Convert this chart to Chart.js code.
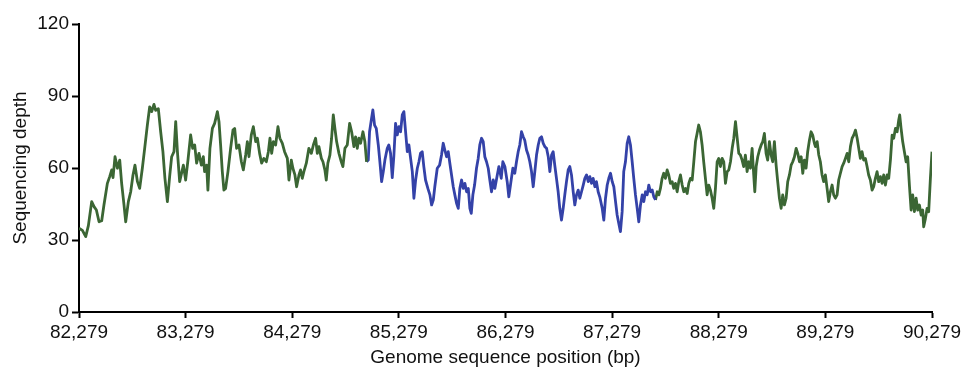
<!DOCTYPE html>
<html>
<head>
<meta charset="utf-8">
<script src="https://cdn.jsdelivr.net/npm/chart.js@4.4.0/dist/chart.umd.min.js"></script>
<style>
  html, body { margin: 0; padding: 0; background: #fff; }
  #wrap { width: 972px; height: 369px; }
</style>
</head>
<body>
<div id="wrap"><canvas id="chart-depth"></canvas></div>
<script>
// genome position (bp) and sequencing depth

// green part, left of the blue region
var leftPos = [
  82279,82311,82342,82367,82398,82420,82442,82467,82492,82513,
  82545,82567,82586,82598,82617,82639,82661,82679,82701,82717,
  82742,82764,82785,82804,82827,82848,82873,82895,82920,82942,
  82961,82982,82998,83023,83045,83066,83085,83108,83129,83148,
  83170,83186,83202,83223,83258,83279,83301,83326,83345,83364,
  83382,83404,83427,83445,83457,83476,83488,83507,83530,83551,
  83577,83592,83607,83623,83638,83654,83676,83701,83723,83739,
  83757,83779,83802,83820,83842,83858,83873,83895,83914,83936,
  83952,83973,83992,84013,84036,84055,84070,84086,84102,84123,
  84145,84163,84186,84207,84233,84248,84270,84285,84304,84320,
  84342,84357,84373,84388,84411,84435,84458,84477,84498,84514,
  84529,84552,84567,84585,84598,84613,84632,84648,84664,84679,
  84695,84717,84739,84754,84773,84795,84817,84836,84857,84873,
  84889,84904,84920,84942,84960,84976
];
var leftDepth = [
  34.9,34,31.4,36,46,43.9,42.5,37.6,38,44.6,
  53.6,56.4,59.2,56,64.7,59.9,63.3,53.6,44.6,37.6,
  46,50.1,57,61.2,54.3,51.5,59.9,68.2,77.9,85.5,
  83.5,86.5,84,84.7,75.1,66.8,55.7,46,56.4,64.7,
  66.8,79.3,66.8,54.3,61.2,55,63.3,73.8,68.2,69.6,
  62,66.1,61.2,64.7,58.5,61.2,50.8,68.2,76.5,78.6,
  83.5,79.3,69.6,58.5,50.8,51.5,58.5,68.2,75.8,76.5,
  68.2,69.6,62.6,59.2,65.4,71,64.7,73.8,77.2,71,
  72.4,66.1,62,64,62.6,66.8,72.4,66.1,71,69.6,
  77.2,72.4,70.3,66.8,64,55,63.3,59.9,57.1,52.2,
  57.1,59.2,55.7,58.5,62,68.2,66.1,69.6,72.4,66.1,
  68.9,64,62.6,59.2,55,62,65.4,72.4,82.1,76.5,
  71,66.1,62.6,60.6,68.2,69.6,78.6,75.1,68.9,73,
  68.2,72.4,70.3,75.1,71,62.6
];

// blue region
var bluePos = [
  84976,84992,85004,85023,85035,85051,85067,85086,85101,85117,
  85133,85148,85170,85185,85201,85217,85232,85248,85264,85279,
  85295,85311,85326,85342,85358,85373,85389,85405,85420,85436,
  85452,85467,85482,85498,85513,85529,85551,85570,85586,85602,
  85616,85639,85661,85679,85695,85710,85726,85742,85757,85773,
  85789,85804,85820,85836,85851,85867,85883,85898,85914,85930,
  85945,85958,85973,85989,86007,86023,86038,86054,86070,86085,
  86101,86117,86132,86148,86164,86179,86202,86217,86239,86254,
  86273,86295,86310,86326,86348,86366,86382,86398,86413,86429,
  86445,86460,86476,86492,86507,86523,86539,86554,86570,86586,
  86601,86617,86633,86648,86664,86680,86695,86711,86726,86741,
  86757,86773,86788,86804,86820,86835,86851,86867,86882,86898,
  86914,86929,86945,86961,86976,86992,87008,87023,87039,87055,
  87070,87086,87101,87117,87132,87148,87163,87186,87201,87217,
  87233,87248,87264,87280,87295,87311,87326,87341,87357,87373,
  87388,87404,87420,87435,87451,87467,87482,87498,87514,87529,
  87545,87561,87576,87592,87608,87623,87639,87655,87670,87686
];
var blueDepth = [
  62.6,63.3,75.1,80.7,84.2,77.9,76.5,69.6,62.6,54.3,
  58.5,63.3,68.2,69.6,66.1,56,65,78.6,73.8,77.2,
  75.1,82.1,83.5,75.1,66.8,69.6,64,58.5,47.4,55,
  59.9,62.6,66.1,66.8,60.6,55,51.5,48.8,44.6,46.7,
  52.2,59.9,61.2,65.4,70.3,67.5,64.7,66.8,62,57.1,
  52.2,48.8,45.3,43.2,51.5,55,51.5,53.6,50.1,51.5,
  43.2,41.1,48.8,52.9,59.9,64,69.6,72.4,71,64.7,
  62.6,59.9,55,50.1,55,51.5,57.1,60.6,55.7,62.6,
  60.6,54.3,48,53,59.9,57.8,62.6,66.8,69.6,75.1,
  73,71.5,67.5,65.4,62.6,58.5,52.2,58.5,65.4,69.6,
  72.4,73,70.3,68.9,68.2,64.7,58.5,65.4,66.8,61.2,
  55.7,50.1,43.2,38.3,43.2,48.8,54.3,59.2,60.6,57.1,
  50.1,44.6,48.8,50.8,47.4,50.1,52.9,55.7,57.1,54.3,
  56.4,53.6,55.7,52.2,54.3,50.1,48,43.2,38.3,47.4,
  52.9,55.7,57.8,54.3,52.2,46,40.4,37,33.5,41.8,
  58.5,62.6,70.3,73,69.6,62.6,55.7,48.8,43.2,37.6,
  44.6,48.8,46,50.1,48.8,52.9,50.1,50.8,48,46.7
];

// green part, right of the blue region
var rightPos = [
  87686,87702,87717,87732,87748,87763,87779,87795,87810,87826,
  87842,87857,87873,87889,87904,87920,87936,87951,87967,87983,
  87998,88014,88030,88045,88061,88076,88091,88107,88123,88138,
  88154,88170,88185,88201,88217,88232,88248,88264,88279,88295,
  88311,88326,88342,88358,88373,88389,88405,88420,88436,88452,
  88467,88482,88498,88513,88529,88545,88560,88576,88592,88607,
  88617,88630,88645,88661,88677,88692,88707,88723,88738,88754,
  88770,88785,88801,88817,88832,88848,88864,88879,88895,88911,
  88926,88942,88958,88973,88989,89005,89020,89036,89052,89067,
  89082,89098,89113,89129,89145,89160,89176,89186,89202,89217,
  89232,89248,89263,89279,89295,89310,89326,89342,89357,89373,
  89389,89404,89420,89436,89451,89467,89483,89498,89514,89530,
  89545,89561,89577,89592,89607,89623,89638,89654,89670,89685,
  89701,89717,89732,89748,89764,89779,89795,89811,89826,89842,
  89858,89873,89889,89905,89920,89936,89952,89967,89976,89989,
  90004,90020,90036,90051,90067,90083,90098,90114,90130,90145,
  90161,90177,90192,90201,90217,90233,90248,90264,90279
];
var rightDepth = [
  46.7,50.1,48.8,51.5,55.7,57.8,55.7,59.2,57.1,53.6,
  54.3,51.5,53.6,50.1,54.3,57.1,52.9,50.1,51.5,49.4,
  53.6,55.7,55,62.6,71,74.4,77.9,75.1,69.6,62.6,
  55.7,48.8,52.9,50.8,47.4,43.2,51.5,62.6,64,60.6,
  64,62.6,53.6,58.5,59.2,62.6,68.2,72.4,79.3,72.4,
  66.1,65.4,63.3,60.6,65.4,58.5,62.6,59.9,68.2,57.1,
  50.1,60.6,64.7,67.5,69.6,71,74.4,66.1,63.3,71,
  65.4,62.6,71,61.2,54.3,47.4,43.2,48.8,44.6,47.4,
  54.3,57.1,61.2,62.6,64.7,68.2,66.1,62.6,64.7,57.8,
  63.3,59.9,66.8,71.5,75.1,73.7,70.3,68.9,71,65.4,
  62.6,57.1,54.3,57.1,51.5,46,50.1,52.9,48.8,47.4,
  48.8,55,57.8,60.6,62,64,66.1,62.6,68.9,72.4,
  73.7,75.8,72.4,68.2,64,66.8,63.3,64,60.6,57.1,
  55,50.8,52.2,55.7,58.5,54.3,56.4,53.6,57.1,52.9,
  57.1,55.7,63.3,73.7,72.4,76.5,75.1,80,82.1,76.5,
  71,66.8,62.6,64.7,52.9,42.5,48.8,41.8,47.4,42.5,
  44.6,40.4,42.5,35.5,38.9,43.2,41.8,55.7,66.8
];

var xTicks = [82279, 83279, 84279, 85279, 86279, 87279, 88279, 89279, 90279];
var yTicks = [0, 30, 60, 90, 120];

var GREEN = "#3b6634";
var BLUE = "#3442a8";
var FONT = "'Liberation Sans', Arial, sans-serif";

function pts(xs, ys) {
  return xs.map(function (x, i) { return { x: x, y: ys[i] }; });
}

function line(data, color) {
  return {
    data: data,
    borderColor: color,
    borderWidth: 2.8,
    borderJoinStyle: "round",
    pointRadius: 0,
    tension: 0,
    fill: false,
  };
}

var ctx = document.getElementById("chart-depth").getContext("2d");

new Chart(ctx, {
  type: "line",
  data: {
    datasets: [
      line(pts(leftPos, leftDepth), GREEN),
      line(pts(bluePos, blueDepth), BLUE),
      line(pts(rightPos, rightDepth), GREEN),
    ],
  },
  options: {
    responsive: true,
    maintainAspectRatio: false,
    animation: false,
    layout: {
      padding: { top: 24, right: 40, left: 0, bottom: 0 },
    },
    plugins: {
      legend: { display: false },
      tooltip: { enabled: false },
    },
    scales: {
      x: {
        type: "linear",
        min: xTicks[0],
        max: xTicks[xTicks.length - 1],
        afterBuildTicks: function (scale) {
          scale.ticks = xTicks.map(function (v) { return { value: v }; });
        },
        afterFit: function (scale) { scale.height = 57; },
        border: { display: true, color: "#000", width: 2 },
        grid: {
          display: true,
          drawOnChartArea: false,
          drawTicks: true,
          tickLength: 6,
          tickWidth: 2,
          tickColor: "#000",
        },
        ticks: {
          color: "#111",
          padding: 3,
          maxRotation: 0,
          autoSkip: false,
          font: { size: 19, family: FONT },
          callback: function (v) { return v.toLocaleString("en-US"); },
        },
        title: {
          display: true,
          text: "Genome sequence position (bp)",
          color: "#111",
          padding: { top: 2, bottom: 0 },
          font: { size: 19, family: FONT },
        },
      },
      y: {
        min: yTicks[0],
        max: yTicks[yTicks.length - 1],
        afterBuildTicks: function (scale) {
          scale.ticks = yTicks.map(function (v) { return { value: v }; });
        },
        afterFit: function (scale) { scale.width = 79; },
        border: { display: true, color: "#000", width: 2 },
        grid: {
          display: true,
          drawOnChartArea: false,
          drawTicks: true,
          tickLength: 7,
          tickWidth: 2,
          tickColor: "#000",
        },
        ticks: {
          color: "#111",
          padding: 3,
          font: { size: 19, family: FONT },
        },
        title: {
          display: true,
          text: "Sequencing depth",
          color: "#111",
          padding: { top: 9, bottom: 0 },
          font: { size: 19, family: FONT },
        },
      },
    },
  },
});
</script>
</body>
</html>
